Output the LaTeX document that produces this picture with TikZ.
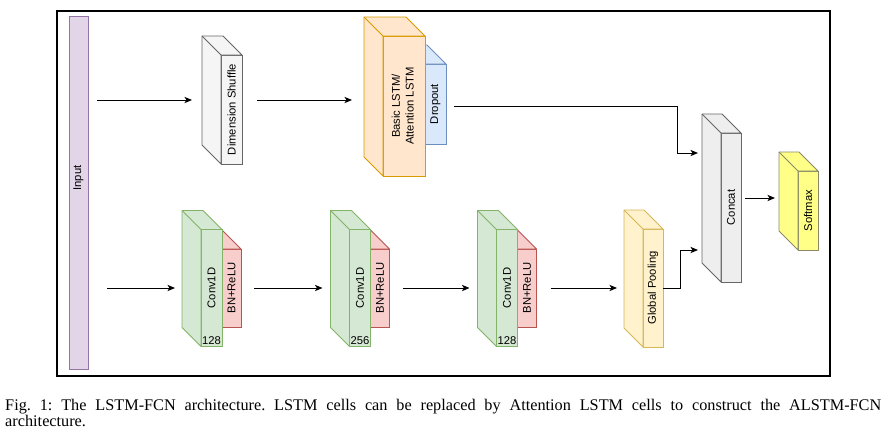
\documentclass[tikz,border=0pt]{standalone}
\usepackage{fontspec}
\usepackage{graphicx}
\setmainfont{Liberation Serif}
\setsansfont{Liberation Sans}
\usetikzlibrary{arrows.meta}
\tikzset{
block/.style={draw, line width=0.6pt, inner sep=0pt, outer sep=0pt, minimum width=16.8pt, font=\sffamily\fontsize{9}{11}\selectfont},
arrow/.style={-{Stealth[length=6pt, width=5pt, inset=1.5pt]}, line width=0.8pt}
}
\begin{document}
\begin{tikzpicture}[x=0.8pt, y=-0.8pt]
\definecolor{InFill}{HTML}{E1D5E7}
\definecolor{InLine}{HTML}{9673A6}
\definecolor{GrayFill}{HTML}{F5F5F5}
\definecolor{GrayLine}{HTML}{666666}
\definecolor{CatFill}{HTML}{EEEEEE}
\definecolor{LstmFill}{HTML}{FFE6CC}
\definecolor{LstmLine}{HTML}{D79B00}
\definecolor{DropFill}{HTML}{DAE8FC}
\definecolor{DropLine}{HTML}{6C8EBF}
\definecolor{ConvFill}{HTML}{D5E8D4}
\definecolor{ConvLine}{HTML}{82B366}
\definecolor{BnFill}{HTML}{F8CECC}
\definecolor{BnLine}{HTML}{B85450}
\definecolor{PoolFill}{HTML}{FFF2CC}
\definecolor{PoolLine}{HTML}{D6B656}
\definecolor{SoftFill}{HTML}{FFFF88}
\definecolor{SoftLine}{HTML}{8A8A6A}
\useasboundingbox (0,0) rectangle (889,433);
\draw[line width=1pt] (57,11) rectangle (830,376);
\node[block, fill=InFill, draw=InLine, minimum width=15.2pt, minimum height=282.4pt] (input) at (78.5,192.5) {};
\node[font=\sffamily\fontsize{9}{11}\selectfont, inner sep=0pt] (inputlabel) at (78.5,178) {\rotatebox{90}{Input}};
\node[block, fill=DropFill, draw=DropLine, minimum height=64pt] (dropout) at (435.5,104) {\rotatebox{90}{Dropout}};
\foreach \i/\x in {1/211.5, 2/360, 3/507}{
\node[block, fill=BnFill, draw=BnLine, minimum width=15.2pt, minimum height=62.4pt] (bn\i) at (\x+20,288) {\rotatebox{90}{BN+ReLU}};
}
\foreach \n/\f/\d in {dropout/DropFill/DropLine, bn1/BnFill/BnLine, bn2/BnFill/BnLine, bn3/BnFill/BnLine}{
\filldraw[fill=\f, draw=\d, line width=0.6pt, line join=round] (\n.south west) -- ++(-19,-19) -- ([shift={(-19,-19)}]\n.north west) -- ([shift={(-19,-19)}]\n.north east) -- (\n.north east) -- (\n.north west) -- cycle;
}
\node[block, fill=GrayFill, draw=GrayLine, minimum height=87.2pt] (shuffle) at (231.5,109.5) {\rotatebox{90}{Dimension Shuffle}};
\node[block, fill=LstmFill, draw=LstmLine, minimum width=33.6pt, minimum height=112pt] (lstm) at (404,106) {\rotatebox{90}{\begin{tabular}{@{}c@{}}Basic LSTM/\\Attention LSTM\end{tabular}}};
\foreach \i/\x/\k in {1/211.5/128, 2/360/256, 3/507/128}{
\node[block, fill=ConvFill, draw=ConvLine, minimum height=93.6pt] (conv\i) at (\x,288) {\rotatebox{90}{Conv1D}};
\node[anchor=south, inner sep=1.5pt, font=\sffamily\fontsize{9}{11}\selectfont] (filters\i) at (conv\i.south) {\k};
}
\node[block, fill=PoolFill, draw=PoolLine, minimum width=16pt, minimum height=94.4pt] (gpool) at (653,288) {\rotatebox{90}{Global Pooling}};
\node[block, fill=CatFill, draw=GrayLine, minimum width=16pt, minimum height=119.2pt] (concat) at (731,207.5) {\rotatebox{90}{Concat}};
\node[block, fill=SoftFill, draw=SoftLine, minimum width=16pt, minimum height=63.2pt] (softmax) at (808,210.5) {\rotatebox{90}{Softmax}};
\foreach \n/\f/\d in {shuffle/GrayFill/GrayLine, lstm/LstmFill/LstmLine, conv1/ConvFill/ConvLine, conv2/ConvFill/ConvLine, conv3/ConvFill/ConvLine, gpool/PoolFill/PoolLine, concat/CatFill/GrayLine, softmax/SoftFill/SoftLine}{
\filldraw[fill=\f, draw=\d, line width=0.6pt, line join=round] (\n.south west) -- ++(-19,-19) -- ([shift={(-19,-19)}]\n.north west) -- ([shift={(-19,-19)}]\n.north east) -- (\n.north east) -- (\n.north west) -- cycle;
\draw[\d, line width=0.6pt] (\n.north west) -- ++(-19,-19);
\coordinate (\n-l) at ([shift={(-19,-9.5)}]\n.west);
\coordinate (\n-r) at ([shift={(0,-9.5)}]\n.east);
}
\draw[arrow, shorten <=7.2pt, shorten >=8pt] (input.east |- shuffle-l) -- (shuffle-l);
\draw[arrow, shorten <=12pt, shorten >=9.6pt] (shuffle-r) -- (lstm-l |- shuffle-r);
\draw[arrow, shorten <=6.4pt] (dropout.east |- lstm.center) -| ([shift={(-25,-45)}]concat-l) -- ([shift={(-4,-45)}]concat-l);
\draw[arrow, shorten <=3.2pt, shorten >=3.2pt] (concat-r) -- (softmax-l |- concat-r);
\draw[arrow, shorten <=15.2pt, shorten >=5.6pt] (input.east |- conv1.west) -- ([shift={(-19,0)}]conv1.west);
\foreach \a/\b in {1/2, 2/3}{
\draw[arrow, shorten <=10.4pt, shorten >=6.4pt] (bn\a.east |- conv\b.west) -- ([shift={(-19,0)}]conv\b.west);
}
\draw[arrow, shorten <=11.2pt, shorten >=5.6pt] (bn3.east |- gpool.west) -- ([shift={(-19,0)}]gpool.west);
\draw[arrow] (gpool.east) -| ([shift={(-22,52)}]concat-l) -- ([shift={(-4,52)}]concat-l);
\node[anchor=north west, text width=700.8pt, align=justify, inner sep=0pt, font=\fontsize{13}{12.8}\selectfont\frenchspacing] (caption) at (5,399) {Fig. 1: The LSTM-FCN architecture. LSTM cells can be replaced by Attention LSTM cells to construct the ALSTM-FCN\linebreak architecture.};
\end{tikzpicture}
\end{document}
